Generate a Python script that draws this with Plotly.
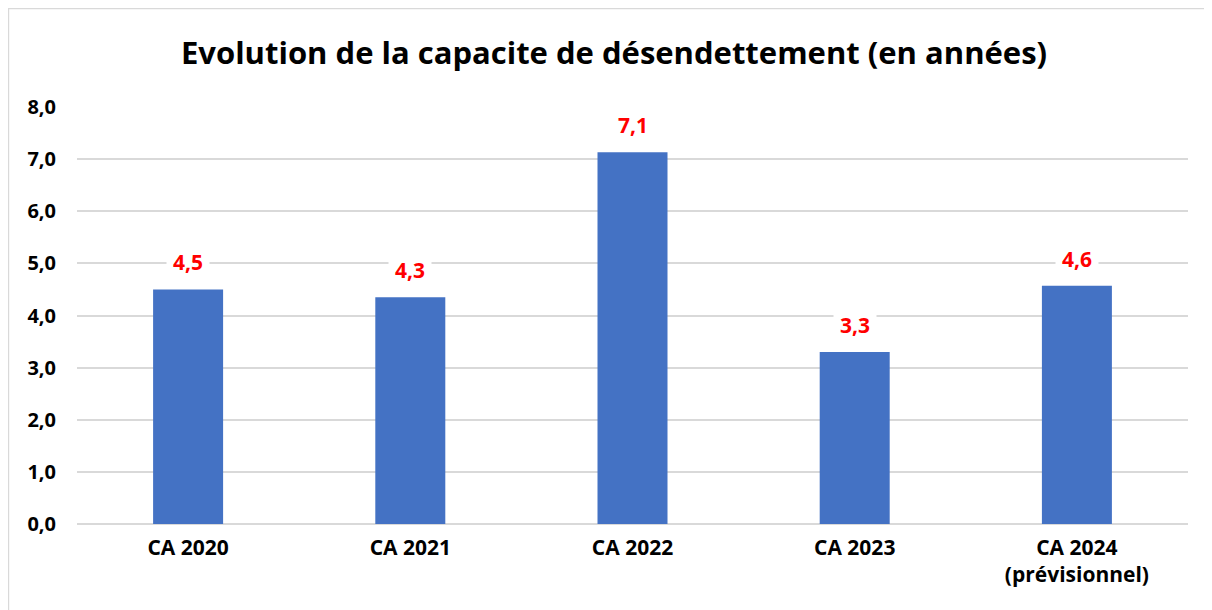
import plotly.graph_objects as go

categories = ["CA 2020", "CA 2021", "CA 2022", "CA 2023", "CA 2024<br>(prévisionnel)"]
values = [4.5, 4.35, 7.13, 3.3, 4.57]
labels = ["4,5", "4,3", "7,1", "3,3", "4,6"]
tick_vals = [0, 1, 2, 3, 4, 5, 6, 7, 8]
tick_text = ["0,0", "1,0", "2,0", "3,0", "4,0", "5,0", "6,0", "7,0", "8,0"]

FONT = "Open Sans"

fig = go.Figure()
fig.add_trace(go.Bar(x=categories, y=values, marker=dict(color="#4472C4", line=dict(width=0)),
                     hoverinfo="x+y"))

for c, v, t in zip(categories, values, labels):
    fig.add_annotation(x=c, y=v, text="<b>%s</b>" % t, showarrow=False, yshift=27,
                       font=dict(family=FONT, size=21, color="#FF0000"),
                       bgcolor="white", borderpad=6)

fig.add_shape(type="rect", xref="paper", yref="paper", x0=-0.0617, x1=1.2, y0=-0.5, y1=1.2362,
              line=dict(color="#D9D9D9", width=1.5), fillcolor="rgba(0,0,0,0)", layer="below")

fig.update_layout(
    width=1212, height=610,
    margin=dict(l=69, r=32, t=99, b=94),
    paper_bgcolor="white", plot_bgcolor="white",
    bargap=0.685,
    showlegend=False,
    title=dict(text="<b>Evolution de la capacite de désendettement (en années)</b>",
               x=0.5, xanchor="center", y=1 - 45 / 610, yanchor="middle",
               font=dict(family=FONT, size=31, color="black")),
    font=dict(family=FONT, color="black"),
    xaxis=dict(showgrid=False, showline=False, ticks="", ticklabelstandoff=9,
               tickfont=dict(family=FONT, size=21, color="black"), tickprefix="<b>", ticksuffix="</b>"),
    yaxis=dict(range=[0, 8], tickvals=tick_vals, ticktext=["<b>%s</b>" % s for s in tick_text],
               showgrid=True, gridcolor="#D9D9D9", gridwidth=1.5, zeroline=True, zerolinecolor="#D9D9D9",
               zerolinewidth=1.5, showline=False, ticks="", ticklabelstandoff=20,
               tickfont=dict(family=FONT, size=20, color="black")),
)

fig.write_html("out.html")
